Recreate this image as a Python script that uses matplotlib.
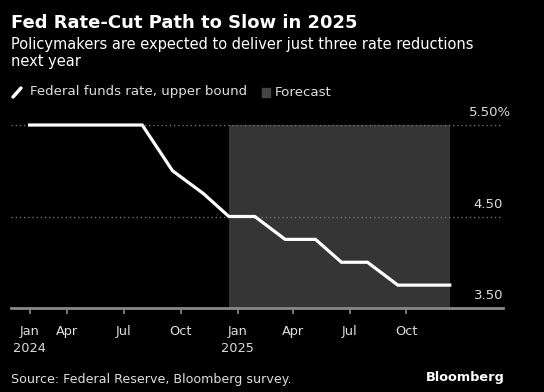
import matplotlib
matplotlib.use("Agg")
import matplotlib.pyplot as plt
from matplotlib.lines import Line2D
from matplotlib.patches import Rectangle
import pandas as pd

# ---- data ----
meeting_dates = ["2024-01-31", "2024-03-20", "2024-05-01", "2024-06-12", "2024-07-31",
                 "2024-09-18", "2024-11-07", "2024-12-18",
                 "2025-01-29", "2025-03-19", "2025-05-07", "2025-06-18", "2025-07-30",
                 "2025-09-17", "2025-10-29", "2025-12-10"]
rate_upper = [5.50, 5.50, 5.50, 5.50, 5.50,
              5.00, 4.75, 4.50,
              4.50, 4.25, 4.25, 4.00, 4.00,
              3.75, 3.75, 3.75]
forecast_start = "2024-12-18"
forecast_end = "2025-12-10"
xtick_dates = ["2024-01-31", "2024-04-01", "2024-07-01", "2024-10-01",
               "2025-01-01", "2025-04-01", "2025-07-01", "2025-10-01"]
xtick_labels = ["Jan\n2024", "Apr", "Jul", "Oct", "Jan\n2025", "Apr", "Jul", "Oct"]
ytick_values = [3.5, 4.5, 5.5]
ytick_labels = ["3.50", "4.50", "5.50%"]

title = "Fed Rate-Cut Path to Slow in 2025"
subtitle = "Policymakers are expected to deliver just three rate reductions\nnext year"
legend_line = "Federal funds rate, upper bound"
legend_fc = "Forecast"
source = "Source: Federal Reserve, Bloomberg survey."

FONT = "DejaVu Sans"
W, H = 544, 392
fig = plt.figure(figsize=(W / 100, H / 100), dpi=100, facecolor="black")

def fx(px):
    return px / W

def fy(py):
    return 1 - py / H

YMAX = 5.664
ax = fig.add_axes([fx(11), fy(308), fx(503) - fx(11), (308 - 110) / H])
ax.set_facecolor("black")

dates = pd.to_datetime(meeting_dates)
ax.plot(dates, rate_upper, color="white", lw=2.3, solid_joinstyle="miter", zorder=3)

ax.axvspan(pd.Timestamp(forecast_start), pd.Timestamp(forecast_end),
           ymin=0, ymax=(5.5 - 3.5) / (YMAX - 3.5), color="#353535", lw=0, zorder=1)

ax.set_xlim(pd.Timestamp("2024-01-01"), pd.Timestamp("2026-03-06"))
ax.set_ylim(3.5, YMAX)

for v in ytick_values[1:]:
    ax.axhline(v, color="#707070", lw=1.0, ls=(0, (1, 2)), zorder=2)

for v, lab in zip(ytick_values, ytick_labels):
    dx = 5.5 if lab.endswith("%") else 0
    ax.annotate(lab, xy=(1, v), xycoords=("axes fraction", "data"),
                xytext=(dx, 4), textcoords="offset points", ha="right", va="bottom",
                color="#dddddd", fontsize=9.5, family=FONT)

ax.set_yticks([])
ax.set_xticks(pd.to_datetime(xtick_dates))
ax.set_xticklabels(xtick_labels, color="#dddddd", fontsize=9.3, family=FONT,
                   linespacing=1.4)
ax.tick_params(axis="x", colors="#888888", length=4, width=1.2, pad=8,
               labelcolor="#dddddd")
for s in ["top", "right", "left"]:
    ax.spines[s].set_visible(False)
ax.spines["bottom"].set_color("#888888")
ax.spines["bottom"].set_linewidth(2)

# ---- texts ----
fig.text(fx(11), fy(23), title, color="white", fontsize=13, fontweight="bold",
         family=FONT, va="center", ha="left")
fig.text(fx(11), fy(37), subtitle, color="white", fontsize=10.5, family=FONT,
         va="top", ha="left", linespacing=1.15)

# legend
fig.add_artist(Line2D([fx(13), fx(21)], [fy(97), fy(88)], color="white", lw=2.5,
                      solid_capstyle="round", transform=fig.transFigure))
fig.text(fx(30), fy(92), legend_line, color="#dddddd", fontsize=9.6, family=FONT,
         va="center", ha="left")
fig.add_artist(Rectangle((fx(262), fy(97)), fx(270) - fx(262), fy(88) - fy(97),
                         color="#444444", transform=fig.transFigure))
fig.text(fx(275), fy(92), legend_fc, color="#dddddd", fontsize=9.6, family=FONT,
         va="center", ha="left")

fig.text(fx(11), fy(379), source, color="#dddddd", fontsize=9.1, family=FONT,
         va="center", ha="left")
fig.text(fx(505), fy(378), "Bloomberg", color="white", fontsize=9.3, fontweight="bold",
         family=FONT, va="center", ha="right")

fig.savefig("out.png", dpi=100, facecolor="black")
